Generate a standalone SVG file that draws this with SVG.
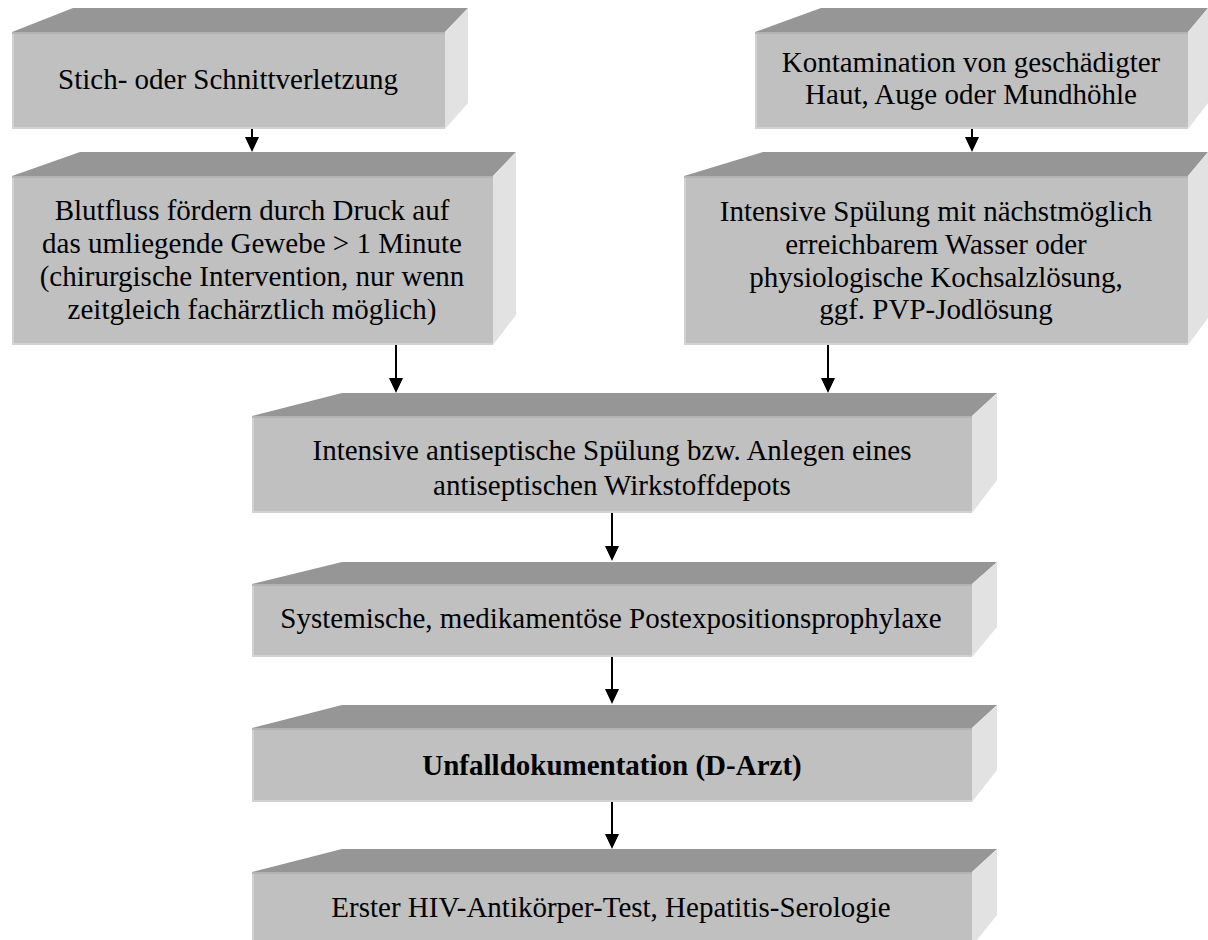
<svg xmlns="http://www.w3.org/2000/svg" width="1208" height="940" viewBox="0 0 1208 940">
<style>
.front{fill:#c0c0c0}
.edge{fill:none;stroke:#d2d2d2;stroke-width:2}
.edgetop{fill:none;stroke:#b4b4b4;stroke-width:2}
.top{fill:#969696}
.side{fill:#e2e2e2}
.t{font-family:"Liberation Serif","Times New Roman",serif;font-size:29px;fill:#000;text-anchor:middle}
.b{font-weight:bold}
.conn{stroke:#000;stroke-width:2;fill:none;marker-end:url(#ah)}
</style>
<defs>
<marker id="ah" markerUnits="userSpaceOnUse" markerWidth="16" markerHeight="14" refX="0" refY="7" orient="auto" viewBox="0 0 16 14">
<path d="M0,0 L15,7 L0,14 z" fill="#000"/>
</marker>
</defs>
<rect width="1208" height="940" fill="#fff"/>

<g id="n1">
<polygon class="top" points="12,32 73,8 468,8 445,32"/>
<polygon class="side" points="445,32 468,8 468,103 445,129"/>
<rect class="front" x="12" y="32" width="433" height="97"/>
<polyline class="edge" points="13,32 13,128 445,128"/>
<line class="edgetop" x1="12" y1="33" x2="445" y2="33"/>
<text class="t" x="228" y="89">Stich- oder Schnittverletzung</text>
</g>

<g id="n2">
<polygon class="top" points="12,176 80,152 516,152 493,176"/>
<polygon class="side" points="493,176 516,152 516,315 493,345"/>
<rect class="front" x="12" y="176" width="481" height="169"/>
<polyline class="edge" points="13,176 13,344 493,344"/>
<line class="edgetop" x1="12" y1="177" x2="493" y2="177"/>
<text class="t" x="252" y="220">Blutfluss fördern durch Druck auf</text>
<text class="t" x="252" y="253">das umliegende Gewebe &gt; 1 Minute</text>
<text class="t" x="252" y="286">(chirurgische Intervention, nur wenn</text>
<text class="t" x="252" y="319">zeitgleich fachärztlich möglich)</text>
</g>

<g id="n3">
<polygon class="top" points="755,32 821,8 1208,8 1188,32"/>
<polygon class="side" points="1188,32 1208,8 1208,103 1188,129"/>
<rect class="front" x="755" y="32" width="433" height="97"/>
<polyline class="edge" points="756,32 756,128 1188,128"/>
<line class="edgetop" x1="755" y1="33" x2="1188" y2="33"/>
<text class="t" x="971" y="72">Kontamination von geschädigter</text>
<text class="t" x="971" y="104">Haut, Auge oder Mundhöhle</text>
</g>

<g id="n4">
<polygon class="top" points="684,176 763,152 1208,152 1188,176"/>
<polygon class="side" points="1188,176 1208,152 1208,318 1188,345"/>
<rect class="front" x="684" y="176" width="504" height="169"/>
<polyline class="edge" points="685,176 685,344 1188,344"/>
<line class="edgetop" x1="684" y1="177" x2="1188" y2="177"/>
<text class="t" x="936" y="221">Intensive Spülung mit nächstmöglich</text>
<text class="t" x="936" y="254">erreichbarem Wasser oder</text>
<text class="t" x="936" y="287">physiologische Kochsalzlösung,</text>
<text class="t" x="936" y="319">ggf. PVP-Jodlösung</text>
</g>

<g id="n5">
<polygon class="top" points="252,416 342,393 997,393 972,416"/>
<polygon class="side" points="972,416 997,393 997,480 972,513"/>
<rect class="front" x="252" y="416" width="720" height="97"/>
<polyline class="edge" points="253,416 253,512 972,512"/>
<line class="edgetop" x1="252" y1="417" x2="972" y2="417"/>
<text class="t" x="612" y="460">Intensive antiseptische Spülung bzw. Anlegen eines</text>
<text class="t" x="612" y="495">antiseptischen Wirkstoffdepots</text>
</g>

<g id="n6">
<polygon class="top" points="252,584 342,562 997,562 972,584"/>
<polygon class="side" points="972,584 997,562 997,627 972,657"/>
<rect class="front" x="252" y="584" width="720" height="73"/>
<polyline class="edge" points="253,584 253,656 972,656"/>
<line class="edgetop" x1="252" y1="585" x2="972" y2="585"/>
<text class="t" x="611" y="628">Systemische, medikamentöse Postexpositionsprophylaxe</text>
</g>

<g id="n7">
<polygon class="top" points="252,728 342,705 997,705 972,728"/>
<polygon class="side" points="972,728 997,705 997,770 972,802"/>
<rect class="front" x="252" y="728" width="720" height="74"/>
<polyline class="edge" points="253,728 253,801 972,801"/>
<line class="edgetop" x1="252" y1="729" x2="972" y2="729"/>
<text class="t b" x="612" y="775">Unfalldokumentation (D-Arzt)</text>
</g>

<g id="n8">
<polygon class="top" points="252,872 342,849 997,849 972,872"/>
<polygon class="side" points="972,872 997,849 997,915 972,946"/>
<rect class="front" x="252" y="872" width="720" height="80"/>
<line class="edge" x1="253" y1="872" x2="253" y2="940"/>
<line class="edgetop" x1="252" y1="873" x2="972" y2="873"/>
<text class="t" x="611" y="917">Erster HIV-Antikörper-Test, Hepatitis-Serologie</text>
</g>

<g id="connectors">
<line class="conn" x1="252" y1="129" x2="252" y2="137"/>
<line class="conn" x1="972" y1="129" x2="972" y2="137"/>
<line class="conn" x1="396" y1="345" x2="396" y2="378"/>
<line class="conn" x1="828" y1="345" x2="828" y2="378"/>
<line class="conn" x1="612" y1="513" x2="612" y2="546"/>
<line class="conn" x1="612" y1="657" x2="612" y2="689"/>
<line class="conn" x1="612" y1="802" x2="612" y2="834"/>
</g>
</svg>
